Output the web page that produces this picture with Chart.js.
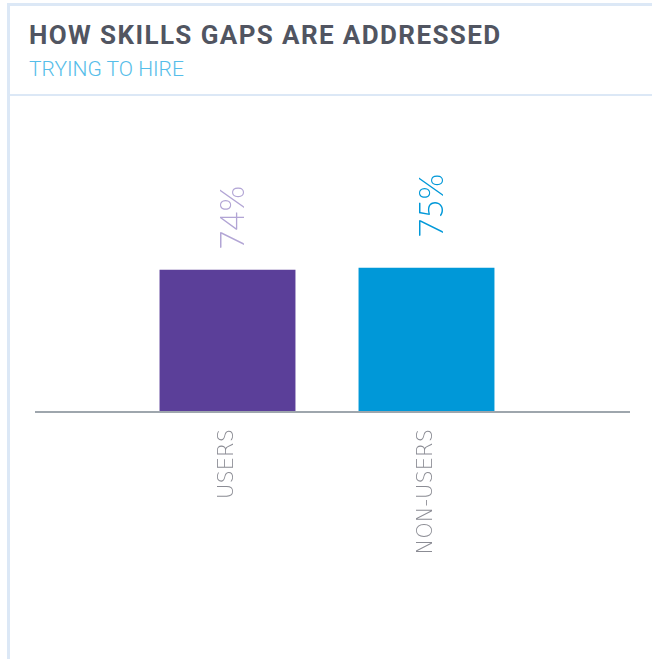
<!DOCTYPE html>
<html>
<head>
<meta charset="utf-8">
<script src="https://cdn.jsdelivr.net/npm/chart.js@4"></script>
<style>
  html, body { margin: 0; padding: 0; background: #ffffff; }
  body { width: 652px; height: 659px; overflow: hidden; position: relative; }
  .panel {
    position: absolute; left: 7px; top: 3px; width: 700px; height: 700px;
    border-left: 3px solid #dce8f6; border-top: 3px solid #dce8f6;
    box-sizing: border-box;
  }
  .rule {
    position: absolute; left: 10px; top: 94px; width: 700px; height: 2px;
    background: #dce8f6;
  }
  h1, h2 { margin: 0; position: absolute; left: 29px; white-space: nowrap; }
  h1 {
    top: 22px; font: 700 26px/26px Roboto, sans-serif; color: #515561;
    letter-spacing: 1.4px;
  }
  h2 {
    top: 59px; font: 300 21px/21px Roboto, sans-serif; color: #55bde9;
  }
  canvas { position: absolute; left: 0; top: 0; }
</style>
</head>
<body>
<div class="panel"></div>
<div class="rule"></div>
<h1>HOW SKILLS GAPS ARE ADDRESSED</h1>
<h2>TRYING TO HIRE</h2>
<canvas id="chart" width="652" height="659"></canvas>
<script>
// Share of firms trying to hire to close skills gaps
const categories = ['USERS', 'NON-USERS'];
const values = [74, 75];
const barColors = ['#5b3f99', '#0098d8'];
const labelColors = ['#b2a5d5', '#0098d8'];

// Rotated percentage labels above each bar
const valueLabels = {
  id: 'valueLabels',
  afterDatasetsDraw(chart, args, opts) {
    const ctx = chart.ctx;
    const meta = chart.getDatasetMeta(0);
    ctx.save();
    ctx.font = opts.font;
    ctx.textAlign = 'left';
    ctx.textBaseline = 'alphabetic';
    meta.data.forEach((bar, i) => {
      ctx.save();
      ctx.translate(bar.x + opts.shift, bar.y - opts.gaps[i]);
      ctx.rotate(-Math.PI / 2);
      ctx.fillStyle = labelColors[i];
      ctx.fillText(values[i] + '%', 0, 0);
      ctx.restore();
    });
    ctx.restore();
  }
};

// Baseline running wider than the bar area
const baseline = {
  id: 'baseline',
  afterDatasetsDraw(chart, args, opts) {
    const ctx = chart.ctx;
    const y = chart.scales.y.getPixelForValue(0);
    const a = chart.chartArea;
    ctx.save();
    ctx.strokeStyle = opts.color;
    ctx.lineWidth = opts.width;
    ctx.beginPath();
    ctx.moveTo(a.left - opts.extendLeft, y + opts.width / 2);
    ctx.lineTo(a.right + opts.extendRight, y + opts.width / 2);
    ctx.stroke();
    ctx.restore();
  }
};

new Chart(document.getElementById('chart'), {
  type: 'bar',
  data: {
    labels: categories,
    datasets: [{
      data: values,
      backgroundColor: barColors,
      borderWidth: 0,
      categoryPercentage: 1,
      barPercentage: 0.683
    }]
  },
  options: {
    responsive: false,
    animation: false,
    devicePixelRatio: 1,
    layout: { padding: { top: 220, left: 128, right: 126, bottom: 0 } },
    plugins: {
      legend: { display: false },
      tooltip: { enabled: false },
      valueLabels: { font: '300 33px Lato, sans-serif', shift: 16, gaps: [20, 30] },
      baseline: { color: '#9ea6ad', width: 2, extendLeft: 93, extendRight: 104 }
    },
    scales: {
      x: {
        grid: { display: false, drawTicks: false },
        border: { display: false },
        ticks: {
          minRotation: 90, maxRotation: 90, padding: 18,
          color: '#8b8c94',
          font: { family: 'DejaVu Sans', size: 21, weight: 200 }
        },
        afterFit(scale) { scale.height = 248; }
      },
      y: {
        display: false,
        min: 0, max: 100
      }
    }
  },
  plugins: [valueLabels, baseline]
});
</script>
</body>
</html>
